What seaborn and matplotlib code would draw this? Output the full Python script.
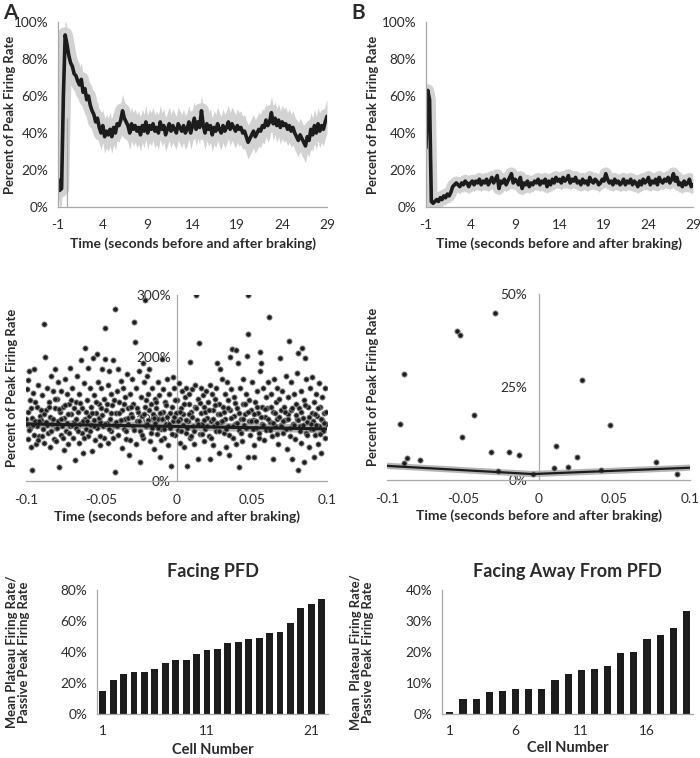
import numpy as np
import pandas as pd
import matplotlib
matplotlib.use("Agg")
import matplotlib.pyplot as plt
import seaborn as sns
from matplotlib.ticker import FuncFormatter, MultipleLocator

# ---- data ----
# top traces: % of peak firing rate, one value every 0.2 s starting at -1 s
trace_step = 0.2
trace_start = -1.0
trace_a = [15, 9, 10, 60, 93, 88, 82, 78, 76, 72, 71, 68, 66, 69, 62, 64, 58, 60, 55, 52,
           50, 46, 48, 43, 40, 44, 38, 41, 39, 42, 38, 43, 40, 45, 44, 47, 52, 48, 46, 44,
           40, 45, 42, 44, 41, 43, 39, 44, 41, 46, 40, 44, 42, 45, 41, 43, 40, 46, 42, 44,
           39, 42, 45, 41, 44, 42, 40, 45, 43, 41, 44, 40, 42, 46, 40, 44, 48, 42, 46, 43,
           52, 44, 40, 45, 42, 44, 39, 43, 41, 45, 42, 40, 44, 41, 43, 46, 42, 45, 43, 41,
           44, 42, 43, 40, 41, 38, 35, 37, 39, 41, 38, 40, 42, 41, 44, 43, 47, 44, 46, 51,
           45, 48, 44, 47, 43, 46, 44, 45, 42, 44, 41, 43, 40, 38, 36, 39, 37, 35, 33, 38,
           36, 42, 39, 44, 40, 45, 41, 44, 42, 46, 49]
trace_b = [32, 63, 58, 3, 2, 3, 4, 3, 5, 4, 6, 5, 7, 6, 8, 11, 12, 13, 12, 11,
           13, 12, 14, 13, 11, 13, 14, 12, 14, 13, 15, 12, 14, 13, 15, 12, 14, 16, 13, 15,
           17, 10, 14, 13, 15, 12, 14, 16, 18, 13, 15, 14, 12, 16, 10, 13, 12, 14, 11, 13,
           12, 14, 13, 15, 12, 14, 13, 15, 11, 14, 12, 15, 13, 16, 14, 15, 13, 16, 14, 15,
           17, 13, 15, 14, 16, 13, 14, 12, 15, 13, 14, 12, 16, 14, 13, 15, 14, 12, 13, 15,
           14, 18, 15, 13, 14, 12, 15, 13, 14, 12, 13, 15, 12, 14, 13, 15, 12, 14, 13, 11,
           14, 12, 15, 13, 14, 16, 12, 14, 13, 15, 12, 16, 14, 13, 15, 14, 16, 13, 15, 18,
           14, 16, 12, 13, 11, 14, 12, 13, 15, 11, 12]
sem_a = 9
sem_b = 4
brake_line_top = 48

# middle scatter A: (time s, % of peak)
scatter_a_points = [
    (-0.0995, 92), (-0.0992, 148), (-0.0990, 163), (-0.0988, 112), (-0.0985, 68), (-0.0980, 178),
    (-0.0975, 85), (-0.0972, 130), (-0.0968, 55), (-0.0962, 101), (-0.0958, 17), (-0.0955, 142),
    (-0.0950, 75), (-0.0945, 180), (-0.0940, 96), (-0.0935, 60), (-0.0930, 120), (-0.0925, 88),
    (-0.0920, 155), (-0.0915, 72), (-0.0910, 105),
    (-0.0898, 98), (-0.0892, 138), (-0.0888, 84), (-0.0883, 253), (-0.0878, 62), (-0.0872, 200),
    (-0.0868, 115), (-0.0862, 90), (-0.0858, 150), (-0.0852, 78), (-0.0848, 128), (-0.0842, 104),
    (-0.0838, 55), (-0.0832, 170), (-0.0826, 92), (-0.0822, 145), (-0.0815, 68), (-0.0810, 118),
    (-0.0805, 180), (-0.0800, 86),
    (-0.0796, 132), (-0.0790, 160), (-0.0785, 96), (-0.0778, 22), (-0.0774, 112), (-0.0770, 74),
    (-0.0765, 145), (-0.0760, 88), (-0.0755, 120), (-0.0750, 50), (-0.0745, 102), (-0.0740, 165),
    (-0.0735, 80), (-0.0730, 140), (-0.0725, 94), (-0.0720, 60), (-0.0715, 125), (-0.0710, 183),
    (-0.0705, 88),
    (-0.0698, 108), (-0.0692, 150), (-0.0688, 70), (-0.0682, 95), (-0.0676, 34), (-0.0670, 128),
    (-0.0665, 85), (-0.0660, 170), (-0.0655, 112), (-0.0650, 62), (-0.0645, 140), (-0.0640, 92),
    (-0.0635, 195), (-0.0630, 78), (-0.0625, 118), (-0.0620, 45), (-0.0615, 158), (-0.0610, 100),
    (-0.0605, 215), (-0.0600, 84),
    (-0.0596, 130), (-0.0590, 72), (-0.0585, 182), (-0.0580, 105), (-0.0575, 150), (-0.0570, 90),
    (-0.0565, 120), (-0.0560, 48), (-0.0555, 198), (-0.0550, 98), (-0.0545, 138), (-0.0540, 66),
    (-0.0535, 110), (-0.0530, 205), (-0.0525, 85), (-0.0520, 160), (-0.0515, 125), (-0.0510, 58),
    (-0.0505, 95), (-0.0500, 150),
    (-0.0495, 180), (-0.0490, 88), (-0.0485, 132), (-0.0480, 70), (-0.0477, 246), (-0.0472, 196),
    (-0.0468, 115), (-0.0462, 94), (-0.0458, 155), (-0.0452, 62), (-0.0448, 178), (-0.0442, 100),
    (-0.0438, 140), (-0.0432, 80), (-0.0426, 122), (-0.0420, 195), (-0.0415, 90), (-0.0409, 277),
    (-0.0409, 15), (-0.0404, 110),
    (-0.0398, 145), (-0.0392, 180), (-0.0386, 75), (-0.0380, 128), (-0.0375, 96), (-0.0370, 162),
    (-0.0365, 54), (-0.0360, 115), (-0.0355, 150), (-0.0350, 84), (-0.0345, 135), (-0.0340, 100),
    (-0.0335, 68), (-0.0330, 172), (-0.0325, 92), (-0.0320, 118), (-0.0315, 42), (-0.0310, 140),
    (-0.0305, 108),
    (-0.0298, 165), (-0.0292, 88), (-0.0287, 125), (-0.0282, 257), (-0.0276, 225), (-0.0272, 60),
    (-0.0266, 150), (-0.0260, 96), (-0.0255, 112), (-0.0250, 178), (-0.0245, 80), (-0.0240, 30),
    (-0.0235, 135), (-0.0230, 105), (-0.0225, 190), (-0.0220, 70), (-0.0215, 160), (-0.0210, 120),
    (-0.0207, 292), (-0.0202, 92),
    (-0.0198, 170), (-0.0192, 140), (-0.0187, 98), (-0.0182, 180), (-0.0176, 64), (-0.0170, 125),
    (-0.0165, 86), (-0.0160, 150), (-0.0155, 108), (-0.0150, 52), (-0.0145, 132), (-0.0140, 94),
    (-0.0135, 118), (-0.0130, 76), (-0.0125, 160), (-0.0120, 100), (-0.0115, 138), (-0.0110, 38),
    (-0.0105, 84),
    (-0.0096, 196), (-0.0092, 112), (-0.0088, 148), (-0.0083, 70), (-0.0078, 128), (-0.0072, 92),
    (-0.0066, 165), (-0.0060, 104), (-0.0055, 58), (-0.0050, 140), (-0.0045, 86), (-0.0036, 24),
    (-0.0032, 120), (-0.0026, 168), (-0.0020, 96), (-0.0015, 150), (-0.0010, 74), (-0.0005, 110),
    (0.0005, 130), (0.0010, 82), (0.0015, 158), (0.0020, 100), (0.0025, 62), (0.0030, 118),
    (0.0035, 145), (0.0040, 90), (0.0045, 108), (0.0050, 55), (0.0055, 135), (0.0060, 78),
    (0.0065, 150), (0.0070, 24), (0.0075, 96), (0.0080, 125), (0.0085, 140), (0.0088, 192),
    (0.0092, 70), (0.0096, 112),
    (0.0102, 148), (0.0108, 88), (0.0114, 60), (0.0120, 120), (0.0125, 155), (0.0130, 300),
    (0.0135, 98), (0.0140, 132), (0.0145, 35), (0.0150, 223), (0.0155, 76), (0.0160, 150),
    (0.0165, 110), (0.0170, 92), (0.0175, 138), (0.0180, 65), (0.0185, 120), (0.0190, 84),
    (0.0195, 145),
    (0.0202, 102), (0.0208, 128), (0.0214, 72), (0.0220, 155), (0.0225, 36), (0.0230, 96),
    (0.0235, 140), (0.0240, 115), (0.0245, 58), (0.0250, 88), (0.0255, 132), (0.0260, 150),
    (0.0265, 80), (0.0270, 190), (0.0275, 108), (0.0280, 125), (0.0285, 45), (0.0290, 180),
    (0.0295, 95),
    (0.0302, 165), (0.0308, 120), (0.0314, 78), (0.0320, 140), (0.0325, 100), (0.0330, 55),
    (0.0335, 160), (0.0340, 88), (0.0345, 130), (0.0350, 42), (0.0355, 115), (0.0358, 200),
    (0.0362, 148), (0.0369, 213), (0.0375, 70), (0.0380, 105), (0.0385, 135), (0.0390, 92),
    (0.0395, 60),
    (0.0398, 212), (0.0403, 118), (0.0407, 190), (0.0412, 82), (0.0418, 23), (0.0424, 150),
    (0.0430, 100), (0.0435, 64), (0.0440, 164), (0.0445, 125), (0.0450, 90), (0.0455, 108),
    (0.0460, 140), (0.0466, 201), (0.0473, 237), (0.0473, 300), (0.0475, 39), (0.0480, 96),
    (0.0485, 130), (0.0490, 75), (0.0495, 115),
    (0.0502, 160), (0.0508, 98), (0.0512, 58), (0.0517, 39), (0.0522, 128), (0.0528, 85),
    (0.0534, 145), (0.0540, 110), (0.0546, 70), (0.0552, 178), (0.0557, 208), (0.0560, 190),
    (0.0565, 92), (0.0570, 120), (0.0576, 150), (0.0582, 66), (0.0588, 104), (0.0594, 135),
    (0.0598, 82),
    (0.0602, 118), (0.0608, 160), (0.0615, 264), (0.0620, 95), (0.0626, 140), (0.0632, 72),
    (0.0638, 112), (0.0644, 35), (0.0650, 165), (0.0655, 88), (0.0660, 128), (0.0665, 100),
    (0.0670, 150), (0.0675, 60), (0.0680, 132), (0.0688, 199), (0.0692, 90), (0.0696, 115),
    (0.0702, 145), (0.0708, 78), (0.0714, 120), (0.0720, 98), (0.0726, 170), (0.0732, 52),
    (0.0738, 108), (0.0744, 135), (0.0748, 226), (0.0752, 86), (0.0758, 160), (0.0764, 115),
    (0.0770, 35), (0.0776, 92), (0.0782, 140), (0.0788, 68), (0.0794, 125), (0.0798, 100),
    (0.0802, 175), (0.0807, 206), (0.0810, 17), (0.0815, 118), (0.0820, 88), (0.0825, 145),
    (0.0830, 62), (0.0836, 215), (0.0840, 102), (0.0845, 31), (0.0850, 130), (0.0854, 199),
    (0.0858, 78), (0.0862, 165), (0.0868, 95), (0.0874, 120), (0.0880, 55), (0.0886, 150),
    (0.0892, 84), (0.0898, 110),
    (0.0902, 168), (0.0907, 96), (0.0911, 39), (0.0915, 128), (0.0920, 74), (0.0926, 140),
    (0.0932, 105), (0.0938, 60), (0.0944, 158), (0.0950, 88), (0.0955, 120), (0.0960, 45),
    (0.0965, 98), (0.0970, 135), (0.0975, 80), (0.0980, 110), (0.0985, 150), (0.0990, 70),
    (0.0995, 92),
    # denser core of the cloud
    (-0.0997, 100), (-0.0982, 82), (-0.0966, 118), (-0.0952, 90), (-0.0938, 128), (-0.0922, 66),
    (-0.0912, 96), (-0.0903, 115), (-0.0895, 72), (-0.0880, 108), (-0.0866, 95), (-0.0850, 120),
    (-0.0836, 80), (-0.0820, 100), (-0.0808, 132), (-0.0803, 64), (-0.0793, 85), (-0.0780, 116),
    (-0.0768, 100), (-0.0752, 70), (-0.0738, 122), (-0.0722, 108), (-0.0712, 78), (-0.0702, 130),
    (-0.0695, 90), (-0.0680, 118), (-0.0668, 100), (-0.0652, 80), (-0.0638, 126), (-0.0622, 96),
    (-0.0612, 70), (-0.0603, 112), (-0.0593, 96), (-0.0578, 80), (-0.0562, 110), (-0.0548, 88),
    (-0.0532, 128), (-0.0518, 102), (-0.0507, 72), (-0.0502, 118), (-0.0493, 106), (-0.0478, 92),
    (-0.0465, 125), (-0.0450, 84), (-0.0435, 110), (-0.0422, 70), (-0.0412, 130), (-0.0402, 95),
    (-0.0395, 88), (-0.0382, 110), (-0.0368, 98), (-0.0352, 124), (-0.0338, 80), (-0.0322, 102),
    (-0.0312, 66), (-0.0302, 120), (-0.0295, 104), (-0.0280, 82), (-0.0262, 118), (-0.0248, 96),
    (-0.0232, 74), (-0.0218, 108), (-0.0205, 130), (-0.0200, 88), (-0.0195, 92), (-0.0180, 115),
    (-0.0168, 78), (-0.0152, 102), (-0.0138, 128), (-0.0122, 86), (-0.0112, 110), (-0.0102, 66),
    (-0.0094, 100), (-0.0080, 84), (-0.0068, 122), (-0.0052, 92), (-0.0040, 110), (-0.0028, 76),
    (-0.0018, 104), (-0.0008, 130), (0.0008, 96), (0.0022, 112), (0.0032, 80), (0.0048, 124),
    (0.0062, 98), (0.0072, 86), (0.0082, 108), (0.0094, 72), (0.0105, 104), (0.0118, 80),
    (0.0128, 118), (0.0142, 92), (0.0158, 126), (0.0168, 76), (0.0182, 98), (0.0192, 112),
    (0.0205, 88), (0.0218, 114), (0.0232, 70), (0.0242, 100), (0.0258, 122), (0.0268, 94),
    (0.0282, 80), (0.0292, 108), (0.0305, 96), (0.0318, 112), (0.0328, 84), (0.0342, 118),
    (0.0352, 74), (0.0365, 102), (0.0378, 88), (0.0392, 126), (0.0405, 94), (0.0415, 110),
    (0.0428, 78), (0.0442, 100), (0.0452, 124), (0.0462, 86), (0.0478, 112), (0.0492, 96),
    (0.0505, 84), (0.0515, 108), (0.0525, 96), (0.0538, 120), (0.0550, 78), (0.0562, 104),
    (0.0578, 90), (0.0590, 116), (0.0605, 100), (0.0618, 82), (0.0630, 120), (0.0642, 94),
    (0.0652, 110), (0.0668, 76), (0.0678, 104), (0.0694, 88), (0.0705, 96), (0.0718, 112),
    (0.0728, 84), (0.0742, 100), (0.0755, 72), (0.0768, 118), (0.0780, 90), (0.0792, 106),
    (0.0805, 98), (0.0818, 80), (0.0828, 112), (0.0842, 90), (0.0856, 122), (0.0866, 74),
    (0.0878, 104), (0.0895, 92), (0.0905, 84), (0.0918, 108), (0.0930, 90), (0.0942, 118),
    (0.0952, 76), (0.0962, 100), (0.0978, 94), (0.0992, 112),
]
trend_a_x = [-0.1, 0.1]
trend_a_y = [92, 84]

# middle scatter B
scatter_b_x = [-0.0917, -0.0891, -0.0886, -0.0869, -0.0779, -0.0541, -0.0519, -0.0508,
               -0.0427, -0.0316, -0.0287, -0.0270, -0.0193, -0.0132, -0.0038, 0.0104,
               0.0115, 0.0193, 0.0252, 0.0287, 0.0410, 0.0475, 0.0775, 0.0913]
scatter_b_y = [15.1, 28.5, 4.5, 6.0, 5.5, 40.0, 39.1, 11.5,
               17.4, 7.5, 44.9, 2.4, 7.5, 6.6, 1.5, 3.1,
               9.2, 3.5, 6.2, 27.0, 2.7, 14.9, 4.8, 1.5]
trend_b_x = [-0.1, -0.004, 0.1]
trend_b_y = [3.8, 1.6, 3.3]

# bottom bars: mean plateau / passive peak (%)
bars_facing = [15, 21.7, 26, 26.9, 27.1, 29.2, 32.9, 34.6, 34.8, 38.9, 41.5,
               41.7, 45.8, 46.5, 48.2, 49, 52.5, 53.1, 58.5, 68.2, 71, 74]
bars_away = [0.5, 4.7, 4.7, 7.1, 7.3, 8.1, 8.2, 8.2, 11.1, 12.8,
             14.3, 14.5, 15.5, 19.7, 20.0, 24.3, 25.4, 27.6, 33.2]

# ---- style ----
sns.set_style("white")
plt.rcParams['font.family'] = ['Lato', 'DejaVu Sans']
plt.rcParams['axes.unicode_minus'] = False

INK = '#1c1c1c'
BAND = '#d2d2d2'
AXIS = '#a8a8a8'
TXT = '#2a2a2a'
TICK_FS = 9.8
XLAB_FS = 10
YLAB_FS = 9.4

pct = FuncFormatter(lambda v, _: f"{v:.0f}%")

fig = plt.figure(figsize=(7, 7.58), dpi=100)
W, H = 700, 758


def add_ax(x0, x1, ytop, ybot):
    return fig.add_axes([x0 / W, 1 - ybot / H, (x1 - x0) / W, (ybot - ytop) / H])


def basic_style(ax):
    for s in ['top', 'right']:
        ax.spines[s].set_visible(False)
    for s in ['left', 'bottom']:
        ax.spines[s].set_color(AXIS)
        ax.spines[s].set_linewidth(0.9)
    ax.tick_params(which='both', colors=AXIS, labelcolor=TXT, labelsize=TICK_FS,
                   length=3.5, width=0.8, direction='out')
    ax.set_facecolor('none')


def draw_trace(ax, vals, sem, band_lw, ylab_x):
    t = trace_start + trace_step * np.arange(len(vals))
    df = pd.DataFrame({'t': t, 'v': vals})
    ax.fill_between(df['t'], df['v'] - sem, df['v'] + sem, color=BAND, lw=0)
    sns.lineplot(data=df, x='t', y='v', ax=ax, color=BAND, lw=band_lw, solid_capstyle='round')
    sns.lineplot(data=df, x='t', y='v', ax=ax, color=INK, lw=2.6)
    ax.set_xlim(-1, 29)
    ax.set_ylim(0, 100)
    ax.set_xticks(range(-1, 30, 5))
    ax.set_yticks(range(0, 101, 20))
    ax.yaxis.set_major_formatter(pct)
    basic_style(ax)
    ax.tick_params(axis='x', pad=5)
    ax.set_xlabel('Time (seconds before and after braking)', fontsize=XLAB_FS,
                  fontweight='bold', color=TXT)
    ax.set_ylabel('Percent of Peak Firing Rate', fontsize=YLAB_FS,
                  fontweight='bold', color=TXT)
    ax.xaxis.set_label_coords(0.5, -0.165)
    ax.yaxis.set_label_coords(ylab_x, 0.5)


# top A
ax1 = add_ax(58, 327, 22, 207)
draw_trace(ax1, trace_a, sem_a, 11, -0.155)
ax1.vlines(0, 0, brake_line_top, color=AXIS, lw=0.9)

# top B
ax2 = add_ax(426, 693, 22, 207)
draw_trace(ax2, trace_b, sem_b, 9, -0.175)


def mid_style(ax, ylab_x):
    basic_style(ax)
    ax.spines['left'].set_position(('data', 0))
    ax.spines['bottom'].set_position(('data', 0))
    ax.set_xlim(-0.1, 0.1)
    ax.set_xticks([-0.1, -0.05, 0, 0.05, 0.1])
    ax.set_xticklabels(['-0.1', '-0.05', '0', '0.05', '0.1'])
    ax.tick_params(axis='x', which='both', length=4, pad=5)
    ax.set_xlabel('Time (seconds before and after braking)', fontsize=XLAB_FS,
                  fontweight='bold', color=TXT)
    ax.set_ylabel('Percent of Peak Firing Rate', fontsize=YLAB_FS,
                  fontweight='bold', color=TXT)
    ax.xaxis.set_label_coords(0.5, -0.16)
    ax.yaxis.set_label_coords(ylab_x, 0.5)


# middle A
ax3 = add_ax(26, 327, 295, 481)
pts = pd.DataFrame(scatter_a_points, columns=['t', 'v'])
tr_a = pd.DataFrame({'t': trend_a_x, 'v': trend_a_y})
sns.lineplot(data=tr_a, x='t', y='v', ax=ax3, color='#b5b5b5', lw=6, zorder=2)
sns.scatterplot(data=pts, x='t', y='v', ax=ax3, s=14, color='#1e1e1e',
                edgecolor='#8a8a8a', linewidth=0.6, zorder=3)
sns.lineplot(data=tr_a, x='t', y='v', ax=ax3, color=INK, lw=2.2, zorder=4)
ax3.set_ylim(0, 300)
ax3.set_yticks([0, 100, 200, 300])
ax3.yaxis.set_major_formatter(pct)
ax3.xaxis.set_minor_locator(MultipleLocator(0.005))
mid_style(ax3, -0.028)
ax3.tick_params(axis='y', length=0, pad=4)

# middle B
ax4 = add_ax(387, 690, 294, 480)
pts_b = pd.DataFrame({'t': scatter_b_x, 'v': scatter_b_y})
tr_b = pd.DataFrame({'t': trend_b_x, 'v': trend_b_y})
sns.lineplot(data=tr_b, x='t', y='v', ax=ax4, color='#b5b5b5', lw=4.5, zorder=2)
sns.lineplot(data=tr_b, x='t', y='v', ax=ax4, color=INK, lw=1.6, zorder=4)
sns.scatterplot(data=pts_b, x='t', y='v', ax=ax4, s=14, color='#1e1e1e',
                edgecolor='#8a8a8a', linewidth=0.6, zorder=3)
ax4.set_ylim(0, 50)
ax4.set_yticks([0, 25, 50])
ax4.yaxis.set_major_formatter(pct)
ax4.yaxis.set_minor_locator(MultipleLocator(5))
ax4.xaxis.set_minor_locator(MultipleLocator(0.01))
mid_style(ax4, -0.028)
ax4.tick_params(axis='y', which='both', length=4, pad=4)


def draw_bars(ax, vals, width, ymax, ystep, label_every, title, ylab, ylab_x, xlab_y, xlim):
    df = pd.DataFrame({'cell': np.arange(1, len(vals) + 1), 'ratio': vals})
    sns.barplot(data=df, x='cell', y='ratio', ax=ax, color=INK, saturation=1,
                width=width, edgecolor='none')
    ax.set_xlim(*xlim)
    ax.set_ylim(0, ymax)
    ax.set_yticks(np.arange(0, ymax + 0.1, ystep))
    ax.yaxis.set_major_formatter(pct)
    pos = list(range(0, len(vals), label_every))
    ax.set_xticks(pos)
    ax.set_xticklabels([str(p + 1) for p in pos])
    ax.set_xticks(np.arange(-0.5, len(vals), 1), minor=True)
    basic_style(ax)
    ax.tick_params(axis='x', which='major', length=0, pad=8)
    ax.tick_params(axis='x', which='minor', length=4)
    ax.set_title(title, fontsize=13, fontweight='bold', color=TXT, pad=9)
    ax.set_xlabel('Cell Number', fontsize=XLAB_FS + 0.5, fontweight='bold', color=TXT)
    ax.set_ylabel(ylab, fontsize=YLAB_FS, fontweight='bold', color=TXT,
                  linespacing=1.05)
    ax.xaxis.set_label_coords(0.5, xlab_y)
    ax.yaxis.set_label_coords(ylab_x, 0.5)


ax5 = add_ax(97, 328, 590, 714)
draw_bars(ax5, bars_facing, 0.65, 80, 20, 10, 'Facing PFD',
          'Mean Plateau Firing Rate/\nPassive Peak Firing Rate',
          -0.29, -0.235, (-0.55, 21.6))

ax6 = add_ax(442, 693, 590, 714)
draw_bars(ax6, bars_away, 0.55, 40, 10, 5, 'Facing Away From PFD',
          'Mean  Plateau Firing Rate/\nPassive Peak Firing Rate',
          -0.27, -0.215, (-0.6, 18.4))

fig.text(3 / W, 1 - 3 / H, 'A', fontsize=15, fontweight='bold', color=TXT, va='top')
fig.text(351 / W, 1 - 3 / H, 'B', fontsize=15, fontweight='bold', color=TXT, va='top')

fig.savefig('out.png', dpi=100, facecolor='white')
